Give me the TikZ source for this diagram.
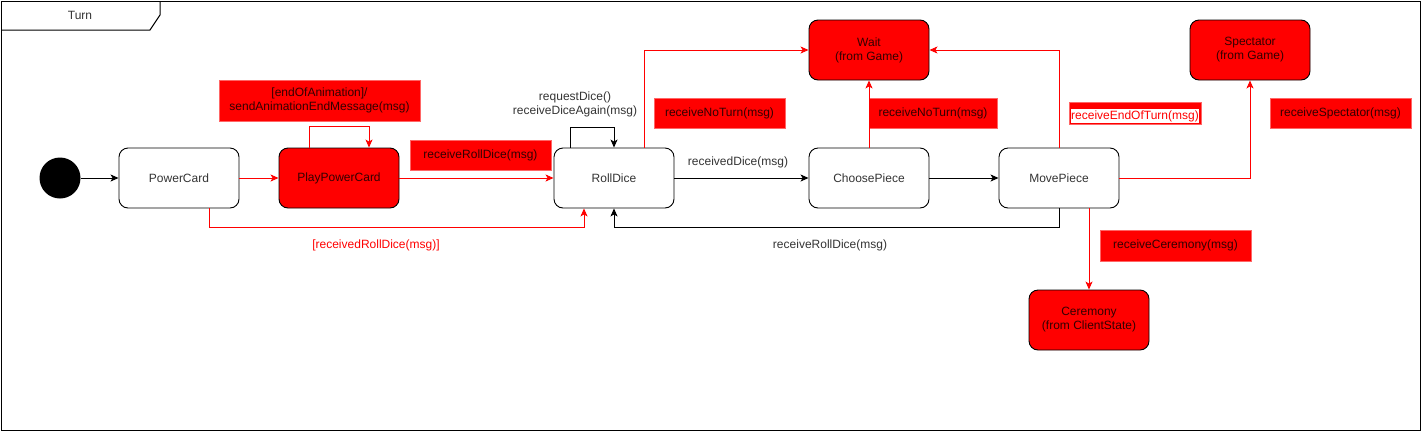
\documentclass[tikz,border=0pt]{standalone}
\usepackage{fontspec}
\setmainfont{Liberation Sans}
\usetikzlibrary{arrows.meta}
\definecolor{txt}{HTML}{333333}
\definecolor{lblborder}{HTML}{FF6666}
\tikzset{
  stt/.style={draw=black, line width=0.9pt, rounded corners=9pt, minimum width=120pt, minimum height=60pt, align=center, inner sep=0pt, text=txt, font=\fontsize{12}{14}\selectfont},
  redstt/.style={stt, fill=red, text=black!80!red},
  lbl/.style={fill=red, draw=lblborder, line width=0.8pt, align=center, inner sep=0pt, text=black!80!red, font=\fontsize{12}{14}\selectfont},
  plain/.style={align=center, inner sep=0pt, text=txt, font=\fontsize{12}{14}\selectfont},
  conn/.style={line width=0.9pt, -{Stealth[length=8pt,width=7pt,inset=2pt]}},
  rconn/.style={conn, red},
}
\begin{document}
\begin{tikzpicture}[x=1pt,y=-1pt]
\useasboundingbox (0,0) rectangle (1422,432);
% frame
\draw[line width=1pt] (1,1) rectangle (1420,430);
\draw[line width=1pt] (1,30) -- (150,30) -- (160,15) -- (160,1);
\node[plain] (title) at (80,15) {Turn};

% states
\node[circle, fill=black, minimum size=41pt, inner sep=0pt] (init) at (60,178) {};
\node[stt] (pc) at (179,178) {PowerCard};
\node[redstt] (ppc) at (339,178) {PlayPowerCard};
\node[stt] (rd) at (614,178) {RollDice};
\node[stt] (cp) at (869,178) {ChoosePiece};
\node[stt] (mp) at (1059,178) {MovePiece};
\node[redstt] (wait) at (869,50) {Wait\\(from Game)};
\node[redstt] (spec) at (1250,50) {Spectator\\(from Game)};
\node[redstt] (cer) at (1089,320) {Ceremony\\(from ClientState)};

% labels
\node[lbl, minimum width=201pt, minimum height=41pt] (l1) at (319.5,100.5) {[endOfAnimation]/\\sendAnimationEndMessage(msg)};
\node[plain] (l2) at (575,104.5) {requestDice()\\receiveDiceAgain(msg)};
\node[lbl, minimum width=141pt, minimum height=30pt] (l3) at (480.5,155) {receiveRollDice(msg)};
\node[lbl, minimum width=131pt, minimum height=30pt] (l4) at (719.5,113) {receiveNoTurn(msg)};
\node[lbl, minimum width=128pt, minimum height=30pt] (l5) at (933,113) {receiveNoTurn(msg)};
\node[lbl, minimum width=132pt, minimum height=22pt] (l6) at (1135,113) {};
\node[fill=white, inner sep=0pt, minimum width=128pt, minimum height=14pt, text=red, font=\fontsize{12}{14}\selectfont] (l6t) at (1135,116) {receiveEndOfTurn(msg)};
\node[lbl, minimum width=141pt, minimum height=30pt] (l7) at (1340.5,113) {receiveSpectator(msg)};
\node[lbl, minimum width=151pt, minimum height=31pt] (l8) at (1175.5,245.5) {receiveCeremony(msg)};
\node[plain] (l9) at (738,162) {receivedDice(msg)};
\node[plain, text=red] (l10) at (376,245) {[receivedRollDice(msg)]};
\node[plain] (l11) at (830,245) {receiveRollDice(msg)};

% connectors
\draw[conn] (init) -- (pc.west);
\draw[rconn] (pc.east) -- (ppc.west);
\draw[rconn] ([xshift=-30pt]ppc.north) -- ++(0,-21) -| ([xshift=30pt]ppc.north);
\draw[rconn] (ppc.east) -- (rd.west);
\draw[rconn] ([xshift=30pt]pc.south) -- ++(0,19) -| ([xshift=-30pt]rd.south);
\draw[conn] ([xshift=-44pt]rd.north) -- ++(0,-20) -| (rd.north);
\draw[conn] (rd.east) -- (cp.west);
\draw[conn] (cp.east) -- (mp.west);
\draw[rconn] ([xshift=30pt]rd.north) |- (wait.west);
\draw[rconn] (cp.north) -- (wait.south);
\draw[rconn] (mp.north) |- (wait.east);
\draw[rconn] (mp.east) -| (spec.south);
\draw[rconn] ([xshift=30pt]mp.south) -- (cer.north);
\draw[conn] (mp.south) -- ++(0,19) -| (rd.south);
\end{tikzpicture}
\end{document}
